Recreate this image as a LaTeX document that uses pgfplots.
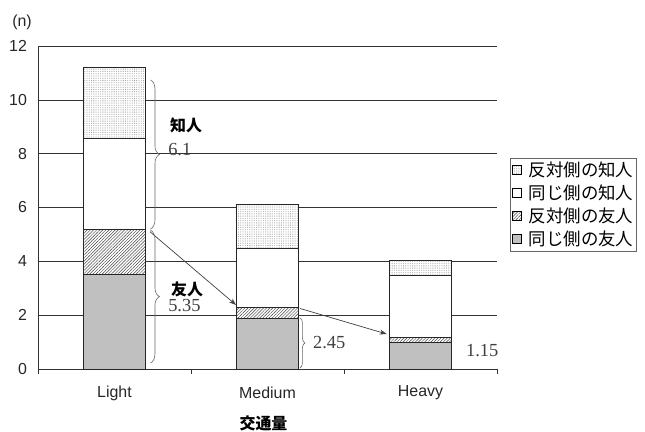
\documentclass[border=0pt]{standalone}
\usepackage{fontspec}
\setmainfont{Liberation Sans}
\newfontfamily\cjk{Noto Sans CJK JP}
\newfontfamily\serifnum{Liberation Serif}
\usepackage{pgfplots}
\pgfplotsset{compat=1.18}
\usetikzlibrary{patterns,patterns.meta,decorations.pathreplacing,arrows.meta}
\definecolor{barGray}{RGB}{192,192,192}
\begin{document}
\begin{tikzpicture}
\useasboundingbox (-38bp,-63bp) rectangle (607bp,369bp);
\begin{axis}[
  at={(0,0)}, anchor=south west,
  scale only axis, width=459bp, height=323bp,
  xmin=0, xmax=3, ymin=0, ymax=12,
  ybar stacked, bar width=0.4,
  clip=false,
  axis x line*=bottom, axis y line*=left,
  axis line style={-, draw=black!80, line width=0.7bp},
  xtick={0.5,1.5,2.5}, xticklabels={Light,Medium,Heavy},
  minor xtick={0,1,2,3},
  tick align=outside,
  major tick length=0bp, minor tick length=5bp,
  minor tick style={draw=black!80, line width=0.7bp},
  ytick={0,2,...,12},
  ymajorgrids,
  major grid style={draw=black!80, line width=0.6bp},
  tick label style={font=\fontsize{16}{16}\selectfont, text=black!85},
  xticklabel style={anchor=center, yshift=-24bp},
  yticklabel style={anchor=east, xshift=-7.5bp},
  /pgf/number format/assume math mode=true,
  reverse legend,
  legend style={at={(rel axis cs:1.028,0.653)}, anchor=north west,
    draw=black!60, line width=0.6bp,
    font=\cjk\fontsize{17.5}{17.5}\selectfont,
    inner xsep=1.5bp, inner ysep=2.5bp, row sep=4.5bp,
    nodes={inner sep=1.2bp}},
  legend cell align=left,
  legend image code/.code={\draw[#1, draw=black, line width=0.8bp] (0bp,-4.5bp) rectangle (9bp,4.5bp); \path (15bp,0bp);},
]
\addplot[draw=black!85, line width=1bp, fill=barGray]
  coordinates {(0.5,3.5) (1.5,1.88) (2.5,1.0)};
\addplot[draw=black!85, line width=1bp, fill=white,
  postaction={pattern={Lines[angle=45,distance=2.2pt,line width=0.45pt]}, pattern color=black!75}]
  coordinates {(0.5,1.7) (1.5,0.42) (2.5,0.18)};
\addplot[draw=black!85, line width=1bp, fill=white]
  coordinates {(0.5,3.35) (1.5,2.18) (2.5,2.31)};
\addplot[draw=black!85, line width=1bp, fill=white,
  postaction={pattern={Dots[distance=1.8pt,radius=0.32pt]}, pattern color=black!60}]
  coordinates {(0.5,2.65) (1.5,1.64) (2.5,0.53)};
\legend{同じ側の友人,反対側の友人,同じ側の知人,反対側の知人}

% braces
\draw[black!60, line width=0.6bp, decorate, decoration={brace, amplitude=9bp, aspect=0.5}]
  (axis cs:0.735,10.74) -- (axis cs:0.735,5.2);
\draw[black!60, line width=0.6bp, decorate, decoration={brace, amplitude=9bp, aspect=0.5}]
  (axis cs:0.735,5.16) -- (axis cs:0.735,0.22);
\draw[black!60, line width=0.6bp, decorate, decoration={brace, amplitude=5bp, aspect=0.5}]
  (axis cs:1.712,1.9) -- (axis cs:1.712,0.04);
\draw[black!60, line width=0.6bp, decorate, decoration={brace, amplitude=4bp, aspect=0.5}]
  (axis cs:2.67,1.0) -- (axis cs:2.67,0.02);

% labels
\node[font=\cjk\bfseries\fontsize{16}{16}\selectfont, anchor=west, inner sep=0pt] at (axis cs:0.863,9.06) {知人};
\node[font=\serifnum\fontsize{18.5}{18.5}\selectfont, text=black!75, anchor=west, inner sep=0pt] at (axis cs:0.85,8.15) {6.1};
\node[font=\cjk\bfseries\fontsize{16}{16}\selectfont, anchor=west, inner sep=0pt] at (axis cs:0.869,2.97) {友人};
\node[font=\serifnum\fontsize{18.5}{18.5}\selectfont, text=black!75, anchor=west, inner sep=0pt] at (axis cs:0.85,2.34) {5.35};
\node[font=\serifnum\fontsize{18.5}{18.5}\selectfont, text=black!75, anchor=west, inner sep=0pt] at (axis cs:1.797,0.97) {2.45};
\node[font=\serifnum\fontsize{18.5}{18.5}\selectfont, text=black!75, anchor=west, inner sep=0pt] at (axis cs:2.797,0.70) {1.15};

% arrows
\draw[-{Stealth[length=7bp,width=5bp]}, black!75, line width=0.7bp]
  (axis cs:0.732,5.1) -- (axis cs:1.294,2.38);
\draw[-{Stealth[length=7bp,width=5bp]}, black!75, line width=0.7bp]
  (axis cs:1.712,2.25) -- (axis cs:2.279,1.3);

% axis titles
\node[font=\fontsize{16}{16}\selectfont, text=black!85, xshift=-16bp, yshift=24bp] at (rel axis cs:0,1) {(n)};
\node[font=\cjk\bfseries\fontsize{16}{16}\selectfont, xshift=-4bp, yshift=-54bp] at (rel axis cs:0.5,0) {交通量};
\end{axis}
\end{tikzpicture}
\end{document}
